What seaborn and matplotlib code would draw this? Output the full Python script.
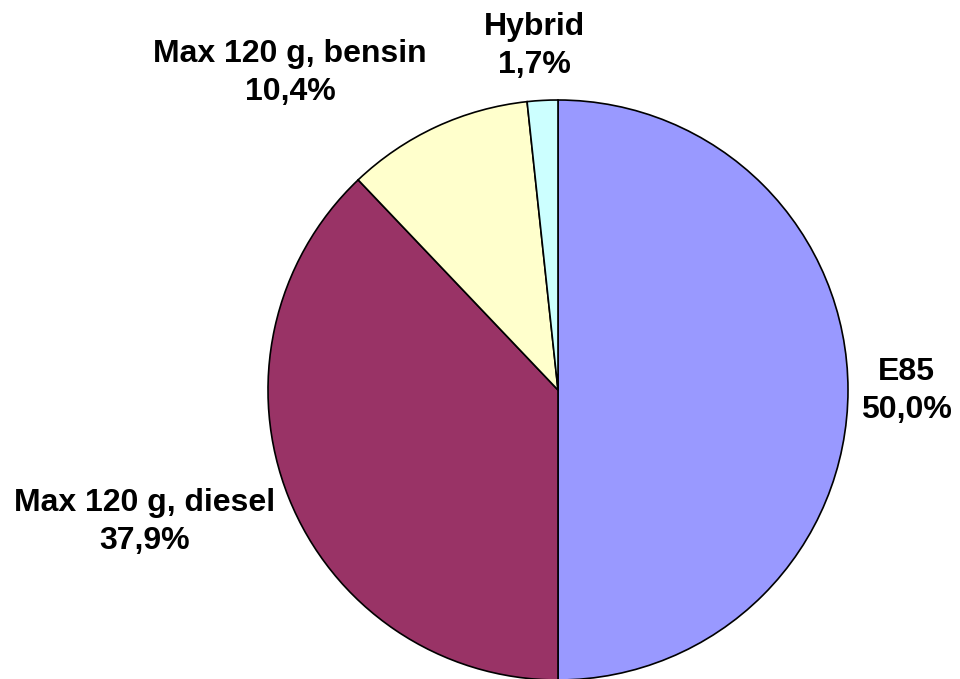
import matplotlib
matplotlib.use("Agg")
import matplotlib.pyplot as plt
import seaborn as sns

sns.set_theme(style="white")
plt.rcParams['font.family'] = ['Liberation Sans', 'DejaVu Sans']

categories = ["E85", "Max 120 g, diesel", "Max 120 g, bensin", "Hybrid"]
values = [50.0, 37.9, 10.4, 1.7]
colors = ["#9999FF", "#993366", "#FFFFCC", "#CCFFFF"]

W, H = 960, 679
cx, cy, r = 558, 390, 290

fig = plt.figure(figsize=(W / 100, H / 100), dpi=100)
fig.patch.set_facecolor("white")
ax = fig.add_axes([(cx - r) / W, (H - cy - r) / H, 2 * r / W, 2 * r / H])

wedges, _ = ax.pie(values, colors=colors, startangle=90, counterclock=False,
                   radius=1.0, wedgeprops=dict(edgecolor="black", linewidth=1.2))
for w in wedges:
    w.set_clip_on(False)
ax.set_xlim(-1, 1)
ax.set_ylim(-1, 1)
ax.set_aspect("equal")
ax.axis("off")

# label centres in pixel coordinates
label_px = [(906, 391), (145, 522), (290, 73), (534, 46)]
for cat, v, (px, py) in zip(categories, values, label_px):
    x = (px - cx) / r
    y = (cy - py) / r
    txt = f"{cat}\n{v:.1f}%".replace(".", ",")
    t = ax.text(x, y, txt, ha="center", va="center", fontsize=23,
                fontweight="bold", color="black", linespacing=1.33)
    t.set_clip_on(False)

fig.savefig("out.png", dpi=100, facecolor="white")
